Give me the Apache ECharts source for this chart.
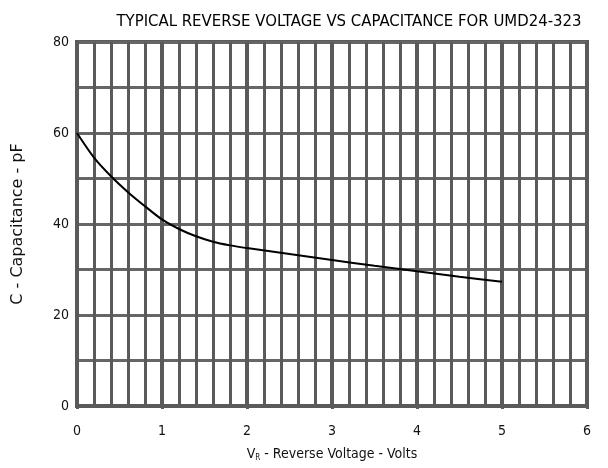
<!DOCTYPE html>
<html>
<head>
<meta charset="utf-8">
<script src="https://cdn.jsdelivr.net/npm/echarts@6/dist/echarts.min.js"></script>
<style>
  html, body { margin: 0; padding: 0; background: #fff; }
  #chart { width: 608px; height: 468px; }
</style>
</head>
<body>
<div id="chart"></div>
<script>
// reverse voltage (V) and capacitance (pF)
const voltage = [0, 0.2, 0.4, 0.6, 0.8, 1.0, 1.2, 1.4, 1.6, 1.8, 2.0, 2.5, 3.0, 3.5, 4.0, 4.5, 5.0];
const capacitance = [60, 54.6, 50.5, 47.0, 43.9, 41.0, 38.9, 37.3, 36.1, 35.3, 34.7, 33.4, 32.1, 30.8, 29.6, 28.4, 27.3];

const xTicks = [0, 1, 2, 3, 4, 5, 6];
const yTicks = [0, 20, 40, 60, 80];

const fontNarrow = "'DejaVu Sans Condensed', 'Liberation Sans', Arial, sans-serif";
const gridColor = '#5a5a5a';

const chart = echarts.init(document.getElementById('chart'));

const option = {
    backgroundColor: '#fff',
    animation: false,
    title: {
        text: 'TYPICAL REVERSE VOLTAGE VS CAPACITANCE FOR UMD24-323',
        left: 344,
        top: 8,
        textAlign: 'center',
        textStyle: {
            fontFamily: fontNarrow,
            fontSize: 16.6,
            fontWeight: 'normal',
            color: '#000'
        }
    },
    grid: {
        left: 77,
        right: 21,
        top: 42,
        bottom: 62,
        outerBoundsMode: 'none',
        containLabel: false,
        show: true,
        borderColor: gridColor,
        borderWidth: 4
    },
    xAxis: {
        type: 'value',
        min: 0,
        max: 6,
        interval: 1,
        name: '{v|V}{sub|R}{v| - Reverse Voltage - Volts}',
        nameLocation: 'middle',
        nameGap: 40,
        nameTextStyle: {
            rich: {
                v: { fontFamily: fontNarrow, fontSize: 14, color: '#111' },
                sub: { fontFamily: fontNarrow, fontSize: 8, color: '#111', verticalAlign: 'bottom', padding: [8, 0, 0, 0] }
            }
        },
        axisLine: { show: true, lineStyle: { color: gridColor, width: 4 } },
        axisTick: { show: true, length: 3, lineStyle: { color: gridColor, width: 3 } },
        axisLabel: {
            margin: 18,
            fontFamily: fontNarrow,
            fontSize: 14,
            color: '#111',
            formatter: v => xTicks.includes(v) ? String(v) : ''
        },
        splitLine: { show: true, lineStyle: { color: gridColor, width: 4 } },
        minorTick: { show: false, splitNumber: 5 },
        minorSplitLine: { show: true, lineStyle: { color: gridColor, width: 3 } }
    },
    yAxis: {
        type: 'value',
        min: 0,
        max: 80,
        interval: 10,
        name: 'C - Capacitance - pF',
        nameLocation: 'middle',
        nameGap: 51,
        nameTextStyle: { fontFamily: "'DejaVu Sans', sans-serif", fontSize: 16, color: '#111' },
        axisLine: { show: true, lineStyle: { color: gridColor, width: 4 } },
        axisTick: { show: false },
        axisLabel: {
            margin: 8,
            fontFamily: fontNarrow,
            fontSize: 14,
            color: '#111',
            formatter: v => yTicks.includes(v) ? String(v) : ''
        },
        splitLine: { show: true, lineStyle: { color: '#666', width: 3 } }
    },
    series: [{
        type: 'line',
        data: voltage.map((v, i) => [v, capacitance[i]]),
        smooth: 0.3,
        showSymbol: false,
        lineStyle: { color: '#000', width: 2 },
        z: 5
    }]
};

chart.setOption(option);
</script>
</body>
</html>
